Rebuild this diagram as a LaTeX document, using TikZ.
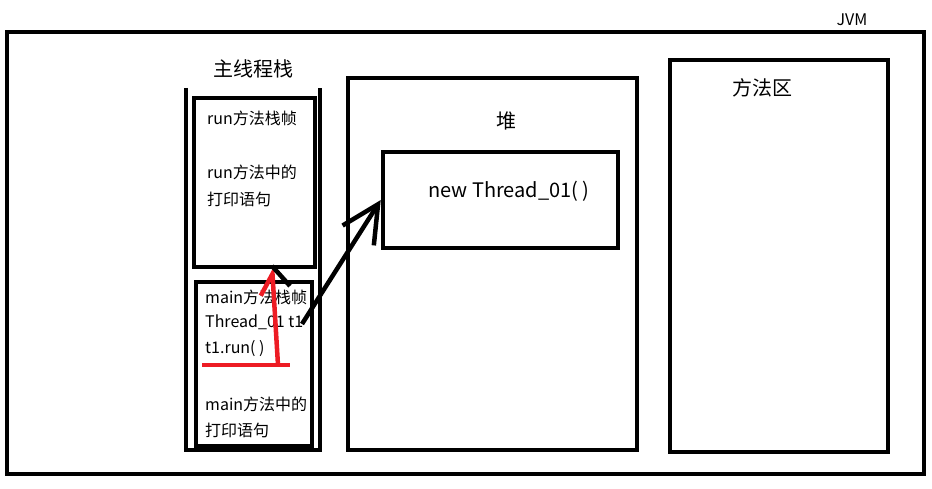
\documentclass[tikz,border=0pt]{standalone}
\usepackage{fontspec}
\setmainfont{Noto Sans CJK SC}
\usetikzlibrary{arrows.meta}
\definecolor{paintred}{RGB}{237,28,36}
\tikzstyle{area}=[draw,line width=4.5pt,inner sep=0pt]
\tikzstyle{txt}=[anchor=west,inner sep=0pt,font=\fontsize{16}{19}\selectfont]
\tikzstyle{title}=[inner sep=0pt,font=\fontsize{20}{23}\selectfont]
\tikzstyle{smalltitle}=[inner sep=0pt,font=\fontsize{16}{18}\selectfont]
\tikzstyle{pen} = [draw,line width=4.5pt]
\tikzstyle{callline} = [draw,line width=4.5pt,paintred]

\begin{document}
\begin{tikzpicture}[x=1pt,y=-1pt]
    \useasboundingbox (0,0) rectangle (932,489);

    % memory areas and stack frames
    \foreach \pos/\w/\h/\name in {{(465.5,253)/917/442/jvm}, {(492.5,264)/289/372/heap},
        {(500.5,200)/235/96/obj}, {(779,256)/218/392/method},
        {(254.5,182.5)/121/169/runframe}, {(254,364)/116/164/mainframe}}
        \node[area,minimum width=\w pt,minimum height=\h pt] (\name) at \pos {};

    % main thread stack, open at the top
    \draw[pen] (186,88) -- (186,450) -- (320,450) -- (320,88);

    \node[smalltitle] (jvmlabel) at (852,20) {JVM};
    \foreach \pos/\name/\text in {{(253,69)/stacklabel/主线程栈}, {(506,121)/heaplabel/堆},
        {(762,88)/methodlabel/方法区}}
        \node[title] (\name) at \pos {\text};
    \node[title,font=\fontsize{20}{23}\selectfont] (objlabel) at (509,191) {new Thread\_01( )};

    % frame contents
    \foreach \pos/\name/\text in {{(207,118)/runhead/run方法栈帧}, {(207,172)/runprint/run方法中的},
        {(207,199)/runprint2/打印语句}, {(205,297)/mainhead/main方法栈帧},
        {(205,322)/t1/Thread\_01 t1}, {(205,349)/callrun/t1.run( )},
        {(205,404)/mainprint/main方法中的}, {(205,430)/mainprint2/打印语句}}
        \node[txt] (\name) at \pos {\text};

    % reference t1 points to the object in the heap
    \coordinate (t1end) at (302,324);
    \draw[pen,-{Straight Barb[length=37pt,width=37pt]}] (t1end) -- (obj.west);

    % t1.run( ) pushes the run frame
    \coordinate (underl) at (202,365);
    \coordinate (underr) at (290,365);
    \coordinate (callfoot) at (278,365);
    \coordinate (runtip) at (272,266);
    \path[callline] (underl) -- (underr);
    \path[callline,-{Straight Barb[harpoon,length=21pt,width=26pt]}] (callfoot) -- (runtip);
    \draw[pen] (runtip) -- ++(18,20);
\end{tikzpicture}
\end{document}
